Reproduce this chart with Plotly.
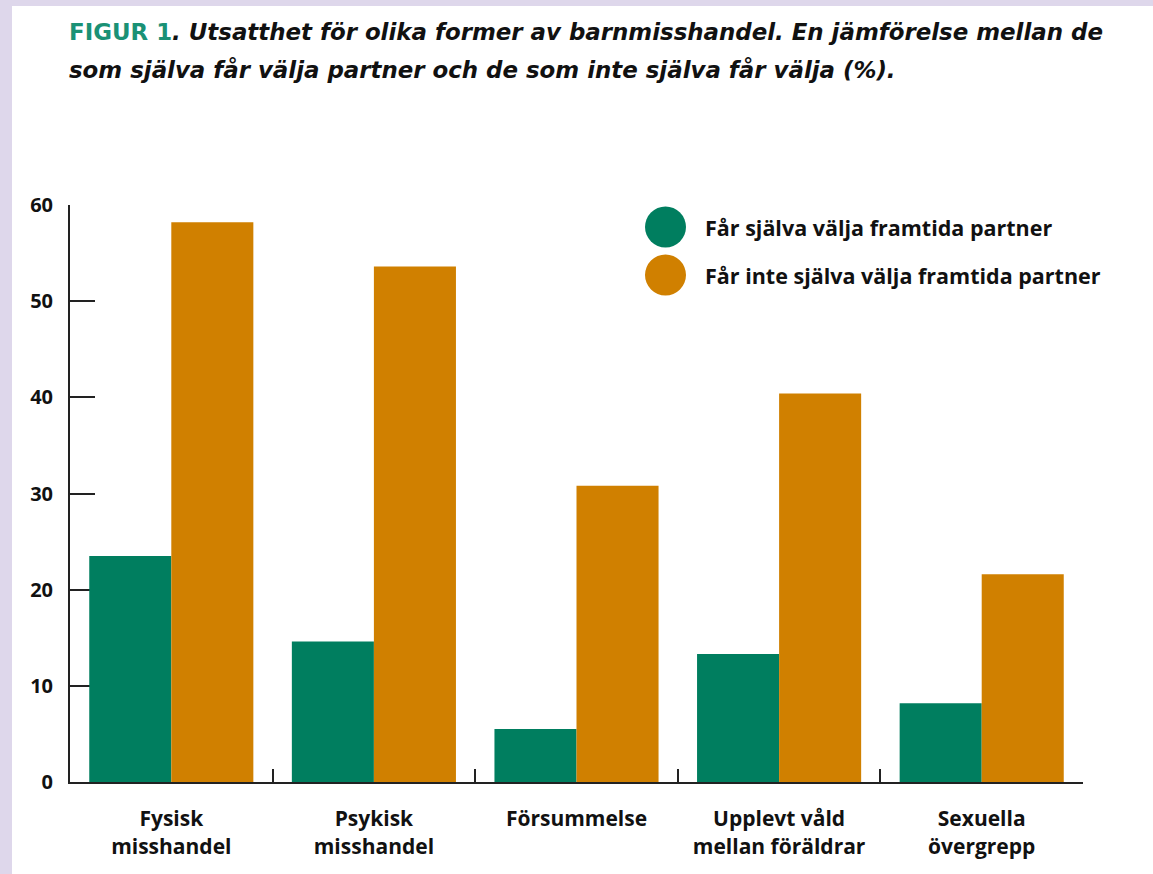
import plotly.graph_objects as go

categories = ["Fysisk<br>misshandel", "Psykisk<br>misshandel", "Försummelse",
              "Upplevt våld<br>mellan föräldrar", "Sexuella<br>övergrepp"]
series_names = ["Får själva välja framtida partner", "Får inte själva välja framtida partner"]
values_choose = [23.5, 14.6, 5.5, 13.3, 8.2]
values_not_choose = [58.2, 53.6, 30.8, 40.4, 21.6]
y_ticks = [0, 10, 20, 30, 40, 50, 60]

GREEN = "#007E5F"
ORANGE = "#D08000"
LAVENDER = "#DED7EB"
TEAL = "#1A9175"
FONT = "Open Sans"
TITLE_FONT = "DejaVu Sans"

W, H = 1153, 874
L, R, T, B = 70, 70, 205, 92
pw, ph = W - L - R, H - T - B

def px(x):
    return (x - L) / pw

def py(y):
    return (H - B - y) / ph

fig = go.Figure()
fig.add_trace(go.Bar(x=categories, y=values_choose, name=series_names[0],
                     marker=dict(color=GREEN, line=dict(width=0)), showlegend=False))
fig.add_trace(go.Bar(x=categories, y=values_not_choose, name=series_names[1],
                     marker=dict(color=ORANGE, line=dict(width=0)), showlegend=False))

shapes = [
    dict(type="rect", xref="paper", yref="paper", x0=px(-10), x1=px(W + 10), y0=py(-10), y1=py(H + 10),
         fillcolor=LAVENDER, line=dict(width=0), layer="below"),
    dict(type="rect", xref="paper", yref="paper", x0=px(12), x1=px(W + 10), y0=py(6), y1=py(H + 10),
         fillcolor="white", line=dict(width=0), layer="below"),
]
annotations = []
legend_y = [227, 275]
for i, (name, col) in enumerate(zip(series_names, [GREEN, ORANGE])):
    cy = legend_y[i]
    shapes.append(dict(type="circle", xref="paper", yref="paper",
                       x0=px(645), x1=px(686), y0=py(cy + 20.5), y1=py(cy - 20.5),
                       fillcolor=col, line=dict(width=0)))
    annotations.append(dict(text=name, xref="paper", yref="paper",
                            x=px(703), y=py(cy), xanchor="left", yanchor="middle",
                            showarrow=False,
                            font=dict(family=FONT, size=21.5, weight="bold", color="#111111")))

annotations.append(dict(
    text=f"<span style='color:{TEAL}'>FIGUR 1</span><i>. Utsatthet för olika former av barnmisshandel. En jämförelse mellan de</i>",
    xref="paper", yref="paper", x=px(67), y=py(32), xanchor="left", yanchor="middle",
    showarrow=False, font=dict(family=TITLE_FONT, size=22.9, weight="bold", color="#111111")))
annotations.append(dict(
    text="<i>som själva får välja partner och de som inte själva får välja (%).</i>",
    xref="paper", yref="paper", x=px(67), y=py(70), xanchor="left", yanchor="middle",
    showarrow=False, font=dict(family=TITLE_FONT, size=22.9, weight="bold", color="#111111")))

fig.update_layout(
    width=W, height=H,
    margin=dict(l=L, r=R, t=T, b=B),
    paper_bgcolor="white", plot_bgcolor="rgba(0,0,0,0)",
    barmode="group", bargap=0.19, bargroupgap=0,
    shapes=shapes, annotations=annotations,
    font=dict(family=FONT, color="#111111"),
)
fig.update_yaxes(range=[0, 60], tickvals=y_ticks, showgrid=False, zeroline=False,
                 showline=True, linecolor="#222222", linewidth=2,
                 ticks="inside", ticklen=25, tickwidth=2, tickcolor="#222222",
                 tickfont=dict(family=FONT, size=20, weight="bold", color="#111111"),
                 ticklabelstandoff=11, layer="below traces")
fig.update_xaxes(showgrid=False, zeroline=False, showline=True, linecolor="#222222", linewidth=2,
                 ticks="inside", ticklen=13, tickwidth=2, tickcolor="#222222", tickson="boundaries",
                 tickfont=dict(family=FONT, size=21, weight="bold", color="#111111"),
                 ticklabelstandoff=17, layer="below traces")

fig.write_html("out.html", config={"displayModeBar": False},
               post_script="document.body.style.margin='0';document.body.style.padding='0';")
